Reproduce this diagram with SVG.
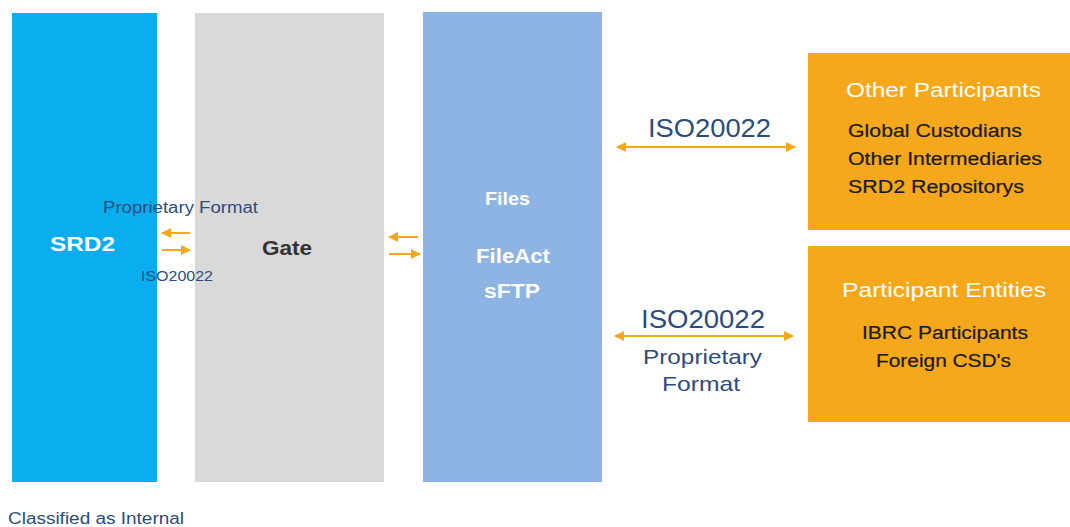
<svg xmlns="http://www.w3.org/2000/svg" width="1070" height="527" viewBox="0 0 1070 527">
<style>
text{font-family:"Liberation Sans",Arial,sans-serif}
.w{fill:#fff}
.k{fill:#1a1a1a;stroke:#1a1a1a;stroke-width:0.2}
.b{fill:#2B4C7E}
.c{stroke:#F5A81C;stroke-width:2;fill:none}
</style>
<defs>
<marker id="ah" viewBox="0 0 10 10" refX="9" refY="5" markerWidth="5" markerHeight="5" orient="auto-start-reverse">
<path d="M0,0 L10,5 L0,10 z" fill="#F5A81C"/>
</marker>
</defs>
<rect width="1070" height="527" fill="#fff"/>
<g id="srd2">
<rect x="12" y="13" width="145" height="469" fill="#0AAEEF"/>
<text x="50" y="251" class="w" font-size="21" font-weight="bold" textLength="65" lengthAdjust="spacingAndGlyphs">SRD2</text>
</g>
<g id="gate">
<rect x="195" y="13" width="189" height="469" fill="#D9D9D9"/>
<text x="262" y="255" fill="#333" font-size="21" font-weight="bold" textLength="50" lengthAdjust="spacingAndGlyphs">Gate</text>
</g>
<g id="files">
<rect x="423" y="12" width="179" height="470" fill="#8DB4E2"/>
<text x="485" y="205" class="w" font-size="18" font-weight="bold" textLength="45" lengthAdjust="spacingAndGlyphs">Files</text>
<text x="476" y="263" class="w" font-size="20" font-weight="bold" textLength="74" lengthAdjust="spacingAndGlyphs">FileAct</text>
<text x="484" y="298" class="w" font-size="20" font-weight="bold" textLength="56" lengthAdjust="spacingAndGlyphs">sFTP</text>
</g>
<g id="other-participants">
<rect x="808" y="53" width="262" height="177" fill="#F5A81C"/>
<text x="846" y="97" class="w" font-size="20" textLength="195" lengthAdjust="spacingAndGlyphs">Other Participants</text>
<text x="848" y="137" class="k" font-size="18" textLength="174" lengthAdjust="spacingAndGlyphs">Global Custodians</text>
<text x="848" y="165" class="k" font-size="18" textLength="194" lengthAdjust="spacingAndGlyphs">Other Intermediaries</text>
<text x="848" y="193" class="k" font-size="18" textLength="176" lengthAdjust="spacingAndGlyphs">SRD2 Repositorys</text>
</g>
<g id="participant-entities">
<rect x="808" y="246" width="262" height="176" fill="#F5A81C"/>
<text x="842" y="297" class="w" font-size="20" textLength="204" lengthAdjust="spacingAndGlyphs">Participant Entities</text>
<text x="862" y="339" class="k" font-size="18" textLength="166" lengthAdjust="spacingAndGlyphs">IBRC Participants</text>
<text x="876" y="367" class="k" font-size="18" textLength="135" lengthAdjust="spacingAndGlyphs">Foreign CSD's</text>
</g>
<g id="connectors">
<line class="c" x1="190" y1="233" x2="162" y2="233" marker-end="url(#ah)"/>
<line class="c" x1="162" y1="250" x2="190" y2="250" marker-end="url(#ah)"/>
<line class="c" x1="418" y1="237" x2="389" y2="237" marker-end="url(#ah)"/>
<line class="c" x1="389" y1="254" x2="420" y2="254" marker-end="url(#ah)"/>
<line class="c" x1="617" y1="147" x2="795" y2="147" marker-start="url(#ah)" marker-end="url(#ah)"/>
<line class="c" x1="615" y1="336" x2="793" y2="336" marker-start="url(#ah)" marker-end="url(#ah)"/>
</g>
<g id="labels">
<text x="103" y="213" class="b" font-size="16" textLength="155" lengthAdjust="spacingAndGlyphs">Proprietary  Format</text>
<text x="141" y="281" class="b" font-size="15" textLength="72" lengthAdjust="spacingAndGlyphs">ISO20022</text>
<text x="648" y="137" class="b" font-size="26" textLength="123" lengthAdjust="spacingAndGlyphs">ISO20022</text>
<text x="641" y="328" class="b" font-size="26" textLength="124" lengthAdjust="spacingAndGlyphs">ISO20022</text>
<text x="643" y="364" class="b" font-size="21" textLength="119" lengthAdjust="spacingAndGlyphs">Proprietary</text>
<text x="662" y="391" class="b" font-size="21" textLength="78" lengthAdjust="spacingAndGlyphs">Format</text>
<text x="8" y="524" class="b" font-size="16" textLength="176" lengthAdjust="spacingAndGlyphs">Classified as Internal</text>
</g>
</svg>
